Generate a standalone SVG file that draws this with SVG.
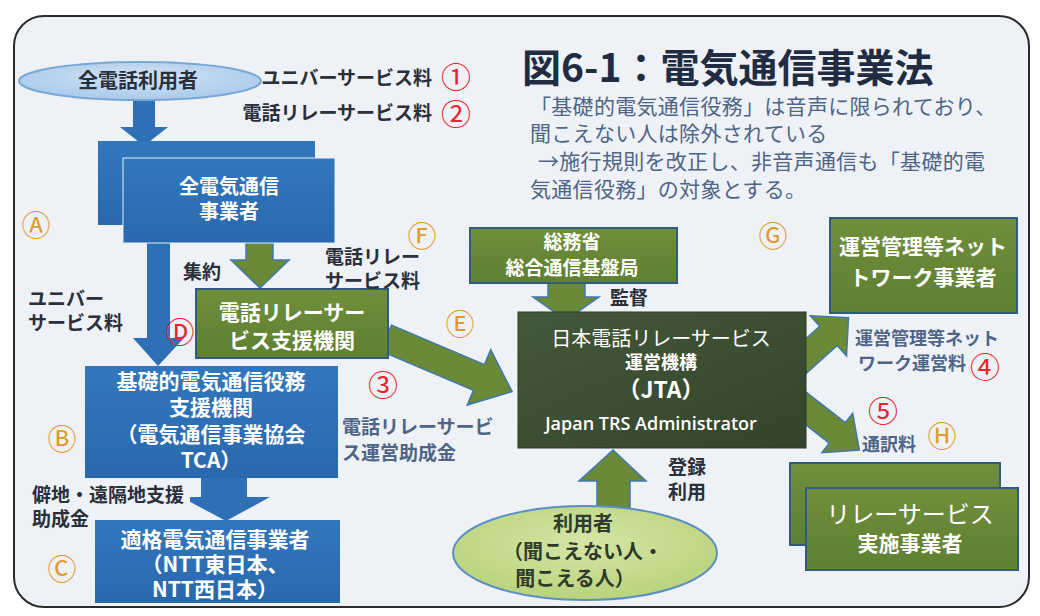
<svg xmlns="http://www.w3.org/2000/svg" width="1040" height="616" viewBox="0 0 1040 616">
<defs>
<linearGradient id="gBlue" x1="0" y1="0" x2="0" y2="1"><stop offset="0" stop-color="#3277bd"/><stop offset="1" stop-color="#2a68ad"/></linearGradient>
<linearGradient id="gGreen" x1="0" y1="0" x2="0" y2="1"><stop offset="0" stop-color="#6f8f3c"/><stop offset="1" stop-color="#5f7f32"/></linearGradient>
<linearGradient id="gJTA" x1="0" y1="0" x2="1" y2="1"><stop offset="0" stop-color="#44583a"/><stop offset="1" stop-color="#33442b"/></linearGradient>
<radialGradient id="gEllB" cx="0.5" cy="0.4" r="0.6"><stop offset="0" stop-color="#d3e4f5"/><stop offset="1" stop-color="#a9c9ea"/></radialGradient>
<radialGradient id="gEllG" cx="0.5" cy="0.4" r="0.6"><stop offset="0" stop-color="#d4e6a6"/><stop offset="1" stop-color="#b9d37c"/></radialGradient>
<style>
.jp{font-family:"Noto Sans CJK JP","Noto Sans",sans-serif}
.b{font-weight:bold}
.wt{fill:#ffffff}
.dk{fill:#2a2f3a}
.sl{fill:#4e6588}
.blue{fill:url(#gBlue)}
.green{fill:url(#gGreen);stroke:#2e5d7e;stroke-width:2}
.garrow{fill:#6a8a38;stroke:#3f78ad;stroke-width:1.5}
.barrow{fill:#2e6fb6}
.num{fill:#e8242c;font-family:"Noto Sans CJK JP",sans-serif;font-size:30px}
.let{fill:#e09a2e;font-family:"Noto Sans CJK JP",sans-serif;font-size:29px}
.letr{fill:#e8242c;font-family:"Noto Sans CJK JP",sans-serif;font-size:29px}
</style>
</defs>
<rect x="0" y="0" width="1040" height="616" fill="#ffffff"/>
<rect x="14" y="16" width="1015" height="591" rx="30" fill="#eef1f5" stroke="#2b2b2b" stroke-width="2"/>

<g id="connectors">
<polygon class="barrow" points="133,98 155,98 155,127 168,127 144,146 120,127 133,127"/>
<polygon class="barrow" points="147,240 170,240 170,338 184,338 158,366 133,338 147,338"/>
<polygon class="garrow" points="246,243 273,243 273,260 289,260 260,288 231,260 246,260"/>
<g transform="translate(386,338) rotate(23)"><polygon class="garrow" points="0,-14 101,-14 101,-30 137,0 101,30 101,14 0,14"/></g>
<polygon class="garrow" points="548,283 585,283 585,297 599,297 566,320 533,297 548,297"/>
<g transform="translate(795,366) rotate(-42)"><polygon class="garrow" points="0,-13 45,-13 45,-27 72,0 45,27 45,13 0,13"/></g>
<g transform="translate(790,396) rotate(38)"><polygon class="garrow" points="0,-13 60,-13 60,-25 88,0 60,25 60,13 0,13"/></g>
<polygon class="garrow" points="597,512 630,512 630,481 646,481 613,450 579,481 597,481"/>
<polygon class="barrow" points="201,474 247,474 247,497 270,497 226,521 181,497 201,497"/>
</g>

<g id="n-all-users">
<ellipse cx="140" cy="81" rx="121" ry="19" fill="url(#gEllB)" stroke="#7aa8d6" stroke-width="2"/>
<text class="jp b dk" x="138" y="88" font-size="20" text-anchor="middle">全電話利用者</text>
</g>

<g id="n-carriers">
<rect x="98" y="141" width="217" height="84" class="blue"/>
<rect x="123" y="158" width="212" height="85" class="blue" stroke="#e9eef4" stroke-width="1"/>
<text class="jp b wt" x="229" y="194" font-size="20" text-anchor="middle">全電気通信</text>
<text class="jp b wt" x="229" y="219" font-size="20" text-anchor="middle">事業者</text>
</g>

<g id="n-relay-support">
<rect x="196" y="289" width="192" height="69" class="green"/>
<text class="jp b wt" x="292" y="320" font-size="21" text-anchor="middle">電話リレーサー</text>
<text class="jp b wt" x="292" y="348" font-size="21" text-anchor="middle">ビス支援機関</text>
</g>

<g id="n-tca">
<rect x="85" y="366" width="253" height="112" class="blue"/>
<text class="jp b wt" x="211" y="389" font-size="21" text-anchor="middle">基礎的電気通信役務</text>
<text class="jp b wt" x="211" y="415" font-size="21" text-anchor="middle">支援機関</text>
<text class="jp b wt" x="211" y="442" font-size="21" text-anchor="middle">（電気通信事業協会</text>
<text class="jp b wt" x="211" y="468" font-size="21" text-anchor="middle">TCA）</text>
</g>

<g id="n-eligible">
<rect x="95" y="520" width="245" height="83" class="blue"/>
<text class="jp b wt" x="215" y="547" font-size="21" text-anchor="middle">適格電気通信事業者</text>
<text class="jp b wt" x="215" y="572" font-size="21" text-anchor="middle">（NTT東日本、</text>
<text class="jp b wt" x="215" y="597" font-size="21" text-anchor="middle">NTT西日本）</text>
</g>

<g id="n-mic">
<rect x="470" y="228" width="207" height="55" class="green"/>
<text class="jp b wt" x="572" y="249" font-size="19" text-anchor="middle">総務省</text>
<text class="jp b wt" x="572" y="275" font-size="19" text-anchor="middle">総合通信基盤局</text>
</g>

<g id="n-jta">
<rect x="518" y="312" width="288" height="136" fill="url(#gJTA)" stroke="#2d3a25" stroke-width="1"/>
<text class="jp wt" x="661" y="346" font-size="20" text-anchor="middle">日本電話リレーサービス</text>
<text class="jp b wt" x="661" y="369" font-size="18" text-anchor="middle">運営機構</text>
<text class="jp b wt" x="661" y="398" font-size="23" text-anchor="middle">（JTA）</text>
<text x="651" y="430" font-size="18" font-family="'Open Sans','Noto Sans',sans-serif" font-weight="600" fill="#ffffff" text-anchor="middle">Japan TRS Administrator</text>
</g>

<g id="n-network">
<rect x="830" y="218" width="187" height="95" class="green"/>
<text class="jp b wt" x="923" y="254" font-size="21" text-anchor="middle">運営管理等ネット</text>
<text class="jp b wt" x="923" y="285" font-size="21" text-anchor="middle">トワーク事業者</text>
</g>

<g id="n-relay-providers">
<rect x="790" y="463" width="210" height="82" class="green"/>
<rect x="806" y="488" width="212" height="82" class="green"/>
<text class="jp wt" x="910" y="523" font-size="24" text-anchor="middle">リレーサービス</text>
<text class="jp b wt" x="910" y="551" font-size="21" text-anchor="middle">実施事業者</text>
</g>

<g id="n-users">
<ellipse cx="585" cy="553" rx="132" ry="47" fill="url(#gEllG)" stroke="#5b8ec4" stroke-width="2"/>
<text class="jp b" fill="#2f3a2c" x="583" y="531" font-size="20" text-anchor="middle">利用者</text>
<text class="jp b" fill="#2f3a2c" x="583" y="559" font-size="20" text-anchor="middle">（聞こえない人・</text>
<text class="jp b" fill="#2f3a2c" x="575" y="586" font-size="20" text-anchor="middle">聞こえる人）</text>
</g>

<g id="labels">
<text class="jp b dk" x="432" y="85" font-size="19" text-anchor="end">ユニバーサービス料</text>
<text class="jp b dk" x="432" y="120" font-size="19" text-anchor="end">電話リレーサービス料</text>
<text class="num" x="456" y="88" text-anchor="middle">①</text>
<text class="num" x="456" y="125" text-anchor="middle">②</text>

<text class="jp b" fill="#1f2c42" x="522" y="82" font-size="39">図6-1：電気通信事業法</text>
<text class="jp sl" x="530" y="114" font-size="21" letter-spacing="0.3">「基礎的電気通信役務」は音声に限られており、</text>
<text class="jp sl" x="530" y="141" font-size="21" letter-spacing="0.3">聞こえない人は除外されている</text>
<text class="jp sl" x="538" y="169" font-size="21" letter-spacing="0.3">→施行規則を改正し、非音声通信も「基礎的電</text>
<text class="jp sl" x="530" y="197" font-size="21" letter-spacing="0.3">気通信役務」の対象とする。</text>

<text class="jp b dk" x="28" y="306" font-size="19">ユニバー</text>
<text class="jp b dk" x="28" y="330" font-size="19">サービス料</text>
<text class="jp b dk" x="183" y="279" font-size="19">集約</text>
<text class="jp b dk" x="325" y="264" font-size="19">電話リレー</text>
<text class="jp b dk" x="325" y="288" font-size="19">サービス料</text>
<text class="jp b sl" x="342" y="434" font-size="19">電話リレーサービ</text>
<text class="jp b sl" x="342" y="460" font-size="19">ス運営助成金</text>
<rect x="30" y="484" width="160" height="22" fill="#eef1f5"/>
<text class="jp b dk" x="32" y="502" font-size="19">僻地・遠隔地支援</text>
<text class="jp b dk" x="32" y="526" font-size="19">助成金</text>
<text class="jp b dk" x="610" y="305" font-size="19">監督</text>
<text class="jp b dk" x="668" y="474" font-size="19">登録</text>
<text class="jp b dk" x="668" y="499" font-size="19">利用</text>
<text class="jp b sl" x="855" y="345" font-size="18">運営管理等ネット</text>
<text class="jp b sl" x="858" y="370" font-size="18">ワーク運営料</text>
<text class="num" x="985" y="378" text-anchor="middle">④</text>
<text class="num" x="383" y="396" text-anchor="middle">③</text>
<text class="num" x="883" y="422" text-anchor="middle">⑤</text>
<text class="jp b sl" x="862" y="451" font-size="18">通訳料</text>

<text class="let" x="36" y="236" text-anchor="middle">Ⓐ</text>
<text class="let" x="62" y="450" text-anchor="middle">Ⓑ</text>
<text class="let" x="62" y="580" text-anchor="middle">Ⓒ</text>
<text class="letr" x="180" y="343" text-anchor="middle">Ⓓ</text>
<text class="let" x="460" y="335" text-anchor="middle">Ⓔ</text>
<text class="let" x="422" y="247" text-anchor="middle">Ⓕ</text>
<text class="let" x="773" y="247" text-anchor="middle">Ⓖ</text>
<text class="let" x="942" y="447" text-anchor="middle">Ⓗ</text>
</g>
</svg>
